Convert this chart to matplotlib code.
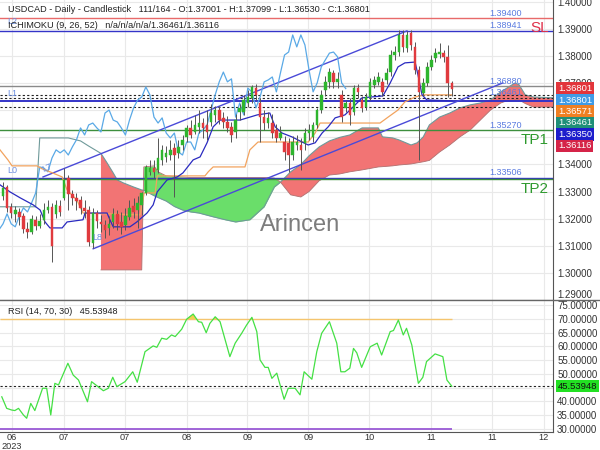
import numpy as np
import matplotlib.pyplot as plt
from matplotlib.lines import Line2D

plt.rcParams["font.family"] = ["Liberation Sans", "DejaVu Sans"]

# ---- USDCAD daily, 111 bougies ----
opens = [1.3284, 1.3317, 1.3243, 1.3218, 1.3225, 1.3210, 1.3162, 1.3151, 1.3196, 1.3173,
         1.3196, 1.3232, 1.3244, 1.3218, 1.3247, 1.3277, 1.3350, 1.3291, 1.3277, 1.3269,
         1.3240, 1.3232, 1.3111, 1.3221, 1.3188, 1.3177, 1.3166, 1.3188, 1.3218, 1.3188,
         1.3177, 1.3207, 1.3247, 1.3232, 1.3251, 1.3295, 1.3373, 1.3387, 1.3380, 1.3417,
         1.3428, 1.3435, 1.3461, 1.3443, 1.3472, 1.3502, 1.3535, 1.3520, 1.3539, 1.3553,
         1.3546, 1.3557, 1.3583, 1.3601, 1.3572, 1.3557, 1.3539, 1.3520, 1.3594, 1.3594,
         1.3627, 1.3646, 1.3682, 1.3627, 1.3575, 1.3553, 1.3553, 1.3527, 1.3498, 1.3483,
         1.3480, 1.3435, 1.3472, 1.3472, 1.3480, 1.3516, 1.3502, 1.3546, 1.3601, 1.3675,
         1.3705, 1.3738, 1.3705, 1.3657, 1.3609, 1.3627, 1.3594, 1.3682, 1.3638, 1.3612,
         1.3649, 1.3694, 1.3705, 1.3705, 1.3712, 1.3741, 1.3804, 1.3815, 1.3878, 1.3830,
         1.3885, 1.3834, 1.3749, 1.3664, 1.3701, 1.3760, 1.3793, 1.3808, 1.3811, 1.3797,
         1.37001]
highs = [1.3336, 1.3325, 1.3258, 1.3247, 1.3240, 1.3221, 1.3188, 1.3214, 1.3210, 1.3218,
         1.3258, 1.3269, 1.3258, 1.3269, 1.3269, 1.3387, 1.3362, 1.3306, 1.3295, 1.3284,
         1.3269, 1.3247, 1.3240, 1.3232, 1.3214, 1.3196, 1.3210, 1.3240, 1.3232, 1.3225,
         1.3240, 1.3269, 1.3277, 1.3284, 1.3299, 1.3398, 1.3417, 1.3417, 1.3498, 1.3472,
         1.3468, 1.3491, 1.3480, 1.3491, 1.3509, 1.3546, 1.3564, 1.3583, 1.3601, 1.3572,
         1.3601, 1.3623, 1.3616, 1.3616, 1.3594, 1.3579, 1.3557, 1.3587, 1.3623, 1.3657,
         1.3675, 1.3694, 1.3697, 1.3646, 1.3601, 1.3594, 1.3587, 1.3550, 1.3542, 1.3505,
         1.3498, 1.3505, 1.3509, 1.3498, 1.3535, 1.3550, 1.3557, 1.3609, 1.3675, 1.3727,
         1.3756, 1.3749, 1.3741, 1.3675, 1.3638, 1.3646, 1.3694, 1.3697, 1.3653, 1.3664,
         1.3719, 1.3727, 1.3741, 1.3719, 1.3756, 1.3823, 1.3837, 1.3896, 1.3896, 1.3893,
         1.3896, 1.3852, 1.3764, 1.3719, 1.3778, 1.3804, 1.3830, 1.3848, 1.3823, 1.3841,
         1.37099]
lows = [1.3269, 1.3225, 1.3203, 1.3188, 1.3177, 1.3148, 1.3129, 1.3144, 1.3159, 1.3166,
        1.3181, 1.3221, 1.3041, 1.3203, 1.3210, 1.3269, 1.3232, 1.3251, 1.3232, 1.3218,
        1.3203, 1.3100, 1.3092, 1.3166, 1.3151, 1.3129, 1.3140, 1.3166, 1.3159, 1.3144,
        1.3159, 1.3196, 1.3203, 1.3166, 1.3214, 1.3288, 1.3362, 1.3350, 1.3369, 1.3398,
        1.3409, 1.3417, 1.3280, 1.3424, 1.3454, 1.3483, 1.3498, 1.3513, 1.3516, 1.3498,
        1.3491, 1.3542, 1.3557, 1.3550, 1.3535, 1.3520, 1.3483, 1.3498, 1.3564, 1.3583,
        1.3612, 1.3627, 1.3638, 1.3483, 1.3527, 1.3535, 1.3498, 1.3483, 1.3491, 1.3417,
        1.3373, 1.3417, 1.3454, 1.3380, 1.3454, 1.3491, 1.3483, 1.3535, 1.3590, 1.3653,
        1.3682, 1.3682, 1.3682, 1.3557, 1.3594, 1.3546, 1.3583, 1.3646, 1.3594, 1.3601,
        1.3638, 1.3682, 1.3694, 1.3653, 1.3697, 1.3727, 1.3786, 1.3800, 1.3815, 1.3815,
        1.3823, 1.3734, 1.3417, 1.3653, 1.3690, 1.3749, 1.3778, 1.3793, 1.3778, 1.3649,
        1.36530]
closes = [1.3314, 1.3240, 1.3221, 1.3232, 1.3207, 1.3162, 1.3151, 1.3199, 1.3173, 1.3192,
          1.3232, 1.3244, 1.3100, 1.3251, 1.3225, 1.3343, 1.3291, 1.3277, 1.3266, 1.3240,
          1.3229, 1.3114, 1.3221, 1.3192, 1.3181, 1.3159, 1.3181, 1.3218, 1.3181, 1.3170,
          1.3210, 1.3240, 1.3225, 1.3258, 1.3295, 1.3391, 1.3387, 1.3373, 1.3424, 1.3454,
          1.3443, 1.3454, 1.3435, 1.3465, 1.3491, 1.3535, 1.3509, 1.3546, 1.3553, 1.3535,
          1.3520, 1.3590, 1.3601, 1.3564, 1.3557, 1.3535, 1.3509, 1.3564, 1.3609, 1.3638,
          1.3649, 1.3686, 1.3657, 1.3575, 1.3553, 1.3572, 1.3516, 1.3498, 1.3516, 1.3446,
          1.3435, 1.3483, 1.3483, 1.3454, 1.3516, 1.3527, 1.3546, 1.3601, 1.3657, 1.3705,
          1.3741, 1.3705, 1.3716, 1.3575, 1.3627, 1.3583, 1.3682, 1.3668, 1.3609, 1.3649,
          1.3705, 1.3712, 1.3723, 1.3668, 1.3738, 1.3804, 1.3815, 1.3878, 1.3834, 1.3878,
          1.3841, 1.3749, 1.3668, 1.3701, 1.3760, 1.3786, 1.3811, 1.3815, 1.3797, 1.3701,
          1.36801]

# ---- Ichimoku (9, 26, 52) ----
tenkan_bar = [-0.74, 1.7, 4.2, 7.4, 9.1, 10.3, 11.5, 14.5, 15.7, 19.6,
              20.1, 25.5, 26.2, 27.0, 31.1, 32.8, 35.3, 36.8, 37.8, 40.2,
              42.7, 44.1, 46.6, 48.3, 50.0, 51.5, 53.2, 58.1, 62.3, 65.4,
              66.7, 68.4, 70.8, 73.3, 74.8, 76.5, 78.2, 79.7, 81.4, 83.8,
              85.8, 88.0, 93.1, 94.9, 96.8, 98.5, 101.0, 101.7, 102.7, 103.9,
              110.0]
tenkan = [1.3325, 1.3299, 1.3277, 1.3251, 1.3232, 1.3188, 1.3166, 1.3166, 1.3188, 1.3196,
          1.3221, 1.3221, 1.3196, 1.3170, 1.3170, 1.3188, 1.3221, 1.3251, 1.3299, 1.3343,
          1.3354, 1.3369, 1.3417, 1.3428, 1.3480, 1.3539, 1.3564, 1.3564, 1.3583, 1.3590,
          1.3539, 1.3516, 1.3502, 1.3483, 1.3472, 1.3480, 1.3516, 1.3539, 1.3572, 1.3583,
          1.3612, 1.3646, 1.3653, 1.3701, 1.3760, 1.3775, 1.3778, 1.3731, 1.3657, 1.3638,
          1.3635]
kijun_bar = [-0.74, 1.2, 2.2, 8.3, 9.6, 11.5, 14.5, 15.7, 18.1, 19.6,
             33.6, 34.6, 37.3, 37.8, 49.5, 50.3, 51.5, 59.3, 60.5, 62.5,
             74.8, 76.5, 77.7, 92.4, 94.4, 96.8, 98.5, 101.0, 103.4, 110.0]
kijun = [1.3454, 1.3417, 1.3395, 1.3395, 1.3384, 1.3373, 1.3354, 1.3306, 1.3269, 1.3221,
         1.3214, 1.3295, 1.3295, 1.3358, 1.3358, 1.3373, 1.3391, 1.3391, 1.3454, 1.3483,
         1.3483, 1.3516, 1.3553, 1.3553, 1.3575, 1.3601, 1.3631, 1.3649, 1.3657, 1.3657]
cloud_bar = [-1, 8, 9, 16, 19, 21, 24, 25.5, 27, 28,
             29.5, 32, 34, 34.5, 37, 38, 40, 42, 44, 46,
             48, 51.5, 54.5, 57, 60.5, 64, 66.5, 68, 70.5, 73,
             75, 77.5, 80, 82.5, 85, 88, 92, 93, 95.5, 97,
             100, 101.5, 103, 104.5, 107, 109.5, 112, 114.5, 117, 119.5,
             122, 123.5, 125.5, 126.5, 128, 130, 135]
span_b = [1.3244, 1.3244, 1.3498, 1.3498, 1.3487, 1.3468, 1.3441, 1.3406, 1.3369, 1.3343,
          1.3332, 1.3317, 1.3306, 1.3305, 1.3285, 1.3278, 1.3265, 1.3245, 1.3232, 1.3225,
          1.3221, 1.3207, 1.3196, 1.3188, 1.3196, 1.3244, 1.3317, 1.3335, 1.3373, 1.3400,
          1.3432, 1.3465, 1.3487, 1.3500, 1.3509, 1.3535, 1.3535, 1.3502, 1.3498, 1.3491,
          1.3472, 1.3480, 1.3502, 1.3546, 1.3575, 1.3590, 1.3609, 1.3620, 1.3627, 1.3638,
          1.3668, 1.3682, 1.3701, 1.3694, 1.3657, 1.3649, 1.3646]
span_a = [np.nan, np.nan, np.nan, np.nan, np.nan, np.nan, 1.3011, 1.3011, 1.3011, 1.3011,
          1.3011, 1.3011, 1.3011, 1.3391, 1.3395, 1.3373, 1.3358, 1.3356, 1.3354, 1.3352,
          1.3352, 1.3352, 1.3352, 1.3352, 1.3352, 1.3352, 1.3350, 1.3335, 1.3288, 1.3280,
          1.3300, 1.3340, 1.3361, 1.3365, 1.3373, 1.3380, 1.3391, 1.3392, 1.3395, 1.3398,
          1.3402, 1.3406, 1.3410, 1.3415, 1.3446, 1.3472, 1.3502, 1.3527, 1.3564, 1.3601,
          1.3627, 1.3635, 1.3638, 1.3638, 1.3625, 1.3612, 1.3612]

# ---- canal + niveaux ----
upper_bar, upper_px = [9.8, 99.0], [1.3354, 1.3893]
lower_bar, lower_px = [22.1, 122.5], [1.3089, 1.3701]
sl_level, stop_line = 1.39400, 1.38941
level_gray = 1.36880
dashed_levels = [1.36571, 1.36461, 1.36116]
blue_level = 1.36350
tp1, tp2_blue, tp2 = 1.35270, 1.33506, 1.33460

tag_values = [1.36801, 1.36801, 1.36571, 1.36461, 1.36350, 1.36116]
tag_colors = ["#e2353b", "#3f9be6", "#ef7f22", "#1f8f78", "#1d1dcc", "#d52448"]

# ---- RSI (14, 70, 30) ----
rsi_bar = [-0.3, 0.9, 2.1, 2.9, 3.8, 5.0, 5.8, 6.8, 7.8, 9.7,
           10.7, 11.7, 12.7, 13.6, 15.9, 17.2, 18.5, 20.7, 21.7, 23.8,
           24.6, 25.8, 26.9, 27.9, 29.9, 31.8, 32.9, 34.8, 36.8, 37.7,
           38.9, 40.1, 41.3, 42.2, 43.8, 45.0, 46.6, 47.9, 48.7, 49.8,
           50.7, 52.0, 53.2, 55.6, 56.9, 58.5, 59.7, 61.0, 62.2, 63.0,
           64.2, 65.0, 65.9, 67.1, 68.9, 69.9, 71.6, 72.8, 73.8, 75.7,
           76.9, 78.1, 80.0, 81.8, 82.8, 83.8, 85.0, 85.9, 86.7, 87.9,
           90.0, 91.7, 92.8, 94.9, 95.7, 96.9, 98.1, 98.9, 100.2, 101.8,
           102.9, 103.8, 105.9, 107.8, 108.8, 110.0]
rsi_val = [41.7, 37.5, 36.9, 36.7, 37.5, 35.1, 33.9, 39.3, 36.7, 44.8,
           44.8, 35.1, 46.6, 46.0, 53.9, 49.6, 47.8, 39.9, 47.2, 44.8,
           43.9, 44.8, 48.8, 45.4, 47.2, 50.8, 47.0, 58.1, 60.2, 59.7,
           63.0, 62.6, 64.2, 63.6, 66.3, 69.9, 71.8, 69.0, 68.8, 65.0,
           68.4, 70.8, 69.0, 56.3, 61.2, 64.8, 67.8, 70.6, 65.4, 55.1,
           52.4, 52.4, 48.4, 50.3, 40.8, 44.8, 44.8, 42.4, 50.8, 48.1,
           58.1, 64.8, 69.0, 61.2, 50.8, 50.8, 52.1, 59.3, 57.7, 52.4,
           59.9, 61.2, 56.9, 65.4, 65.8, 69.6, 64.2, 66.6, 60.5, 46.6,
           48.8, 54.5, 57.3, 56.3, 47.8, 45.53948]

date_pos = [2.2, 14.9, 29.8, 45.0, 59.9, 74.8, 89.7, 104.9, 119.8, 132.5]
date_lbl = ["06\n2023", "07", "07", "08", "09", "09", "10", "11", "11", "12"]
price_ticks = [1.29, 1.30, 1.31, 1.32, 1.33, 1.34, 1.35, 1.36, 1.37, 1.38, 1.39, 1.40]
rsi_ticks = [30, 35, 40, 45, 50, 55, 60, 65, 70, 75]

# ============================================================
fig = plt.figure(figsize=(6, 4.5), dpi=100)
ax = fig.add_axes([0, 150 / 450, 553 / 600, 300 / 450])
ax2 = fig.add_axes([0, 18 / 450, 553 / 600, 132 / 450])
XMIN, XMAX = -0.74, 134.8

for a in (ax, ax2):
    a.set_xlim(XMIN, XMAX)
    a.set_xticks(date_pos)
    a.grid(True, color="#e9e9e9", lw=0.8, zorder=0)
    a.yaxis.tick_right()
    a.tick_params(length=0, labelsize=7, colors="#333333", pad=3)
    for s in ("left", "top"):
        a.spines[s].set_visible(False)
    a.spines["right"].set_color("#555555")
    a.spines["bottom"].set_color("#555555")
    a.set_axisbelow(True)

ax.set_ylim(1.2900, 1.4007)
ax.set_yticks(price_ticks)
ax.set_yticklabels([f"{v:.5f}" for v in price_ticks])
ax.get_yticklabels()[0].set_va("bottom")
ax.set_xticklabels([])

# nuage
cb = np.array(cloud_bar)
sa = np.array(span_a, dtype=float)
sb = np.array(span_b)
ax.fill_between(cb, sa, sb, where=sa >= sb, interpolate=True, color="#6ade6a", lw=0, zorder=1)
ax.fill_between(cb, sa, sb, where=sb > sa, interpolate=True, color="#f27474", lw=0, zorder=1)
ax.plot(cb, sb, color="#6f9a9a", lw=0.8, zorder=2)
ax.plot(cb, sa, color="#b07070", lw=0.6, zorder=2)

# watermark
ax.text(0.5425, 0.25, "Arincen", transform=ax.transAxes, fontsize=17,
        color="#7d7d7d", ha="center", va="center", zorder=1.5)

# niveaux horizontaux
ax.axhline(sl_level, color="#e86a6a", lw=1, zorder=2)
ax.axhline(stop_line, color="#3434c8", lw=1, zorder=2)
ax.axhline(level_gray, color="#8a8a8a", lw=1, zorder=2)
for v in dashed_levels:
    ax.axhline(v, color="#222222", lw=0.8, ls=(0, (2, 2)), zorder=2)
ax.axhline(blue_level, color="#3434c8", lw=1.4, zorder=2)
ax.axhline(tp1, color="#3d8f3d", lw=1, zorder=2)
ax.axhline(tp2_blue, color="#3434c8", lw=1, zorder=2)
ax.axhline(tp2, color="#3d8f3d", lw=1, zorder=2)

lbl_kw = dict(fontsize=6.5, color="#5a7be0", ha="left", va="bottom", zorder=6)
for v in (sl_level, stop_line, level_gray, dashed_levels[1], tp1, tp2_blue):
    ax.text(119.2, v + 0.0002, f"{v:.5f}", **lbl_kw)

ax.text(133.8, sl_level - 0.0009, "SL", color="#e0304a", fontsize=11, ha="right", va="top", zorder=6)
ax.text(133.8, tp1 - 0.0010, "TP1", color="#2e9a2e", fontsize=11, ha="right", va="top", zorder=6)
ax.text(133.8, tp2 - 0.0010, "TP2", color="#2e9a2e", fontsize=11, ha="right", va="top", zorder=6)

# canal
ax.plot(upper_bar, upper_px, color="#4a4ad8", lw=1, zorder=3)
ax.plot(lower_bar, lower_px, color="#4a4ad8", lw=1, zorder=3)
lk = dict(fontsize=6.5, color="#6b8ee0", zorder=6)
ax.text(1.0, 1.3926, "L2", va="center", **lk)
ax.text(1.0, 1.3662, "L1", va="center", **lk)
ax.text(1.0, 1.3377, "L0", va="center", **lk)
ax.text(upper_bar[0] - 0.5, upper_px[0] + 0.0035, "L7", va="center", rotation=22, **lk)
ax.text(lower_bar[0] - 0.2, lower_px[0] + 0.0040, "L8", va="center", **lk)

# Ichimoku lignes
cl = np.array(closes)
chikou_bar = np.arange(-1, len(closes) - 26)
ax.plot(chikou_bar, cl[25:], color="#5aa9e6", lw=0.9, zorder=3)
ax.plot(kijun_bar, kijun, color="#f2a35e", lw=0.9, zorder=3)
ax.plot(tenkan_bar, tenkan, color="#2a2ac0", lw=0.9, zorder=3)

# bougies
bars = np.arange(len(closes))
o, h, l = np.array(opens), np.array(highs), np.array(lows)
col = np.where(cl >= o, "#2eb52e", "#e03a3e")
ax.vlines(bars, l, h, color="#555555", lw=0.7, zorder=4)
ax.bar(bars, np.maximum(np.abs(cl - o), 0.00012), bottom=np.minimum(o, cl),
       width=0.62, color=col, edgecolor=col, lw=0.3, zorder=5)

# étiquettes de prix à droite
for k, (v, c) in enumerate(zip(tag_values, tag_colors)):
    ax.annotate(f"{v:.5f}", xy=(1, tag_values[0]), xycoords=("axes fraction", "data"),
                xytext=(3.5, -k * 8.25), textcoords="offset points", ha="left", va="center",
                fontsize=6.8, color="white", annotation_clip=False, zorder=10,
                bbox=dict(boxstyle="square,pad=0.18", fc=c, ec="none"))

fig.text(8 / 600, 1 - 10 / 450,
         "USDCAD - Daily - Candlestick   111/164 - O:1.37001 - H:1.37099 - L:1.36530 - C:1.36801",
         fontsize=6.6, color="#222222", va="center")
fig.text(8 / 600, 1 - 25 / 450, "ICHIMOKU (9, 26, 52)   n/a/n/a/n/a/1.36461/1.36116",
         fontsize=6.6, color="#222222", va="center")

# ---- RSI ----
ax2.set_ylim(28.9, 76.9)
ax2.set_yticks(rsi_ticks)
ax2.set_yticklabels([f"{v:.5f}" for v in rsi_ticks])
ax2.set_xticklabels(date_lbl, linespacing=0.95)
ax2.tick_params(axis="x", pad=1, labelsize=6.6)
rb, rv = np.array(rsi_bar), np.array(rsi_val)
ax2.hlines(70, XMIN, rsi_bar[-1], color="#f5c56e", lw=1, zorder=2)
ax2.hlines(30, XMIN, rsi_bar[-1], color="#9a5ad6", lw=1.3, zorder=2)
ax2.axhline(rsi_val[-1], color="#222222", lw=0.8, ls=(0, (2, 2)), zorder=2)
ax2.fill_between(rb, rv, 70, where=rv > 70, interpolate=True, color="#f0d050", lw=0, zorder=2)
ax2.plot(rb, rv, color="#44e044", lw=0.9, zorder=3)
ax2.annotate(f"{rsi_val[-1]:.5f}", xy=(1, rsi_val[-1]), xycoords=("axes fraction", "data"),
             xytext=(3.5, 0), textcoords="offset points", ha="left", va="center",
             fontsize=6.8, color="#111111", annotation_clip=False, zorder=10,
             bbox=dict(boxstyle="square,pad=0.18", fc="#22e022", ec="none"))
ax2.text(8 / 553, 1 - 11 / 132, f"RSI (14, 70, 30)   {rsi_val[-1]:.5f}",
         transform=ax2.transAxes, fontsize=6.6, color="#222222", va="center")

fig.add_artist(Line2D([0, 1], [150 / 450, 150 / 450], color="#666666", lw=1))

plt.savefig("out.png", dpi=100)
plt.close()
